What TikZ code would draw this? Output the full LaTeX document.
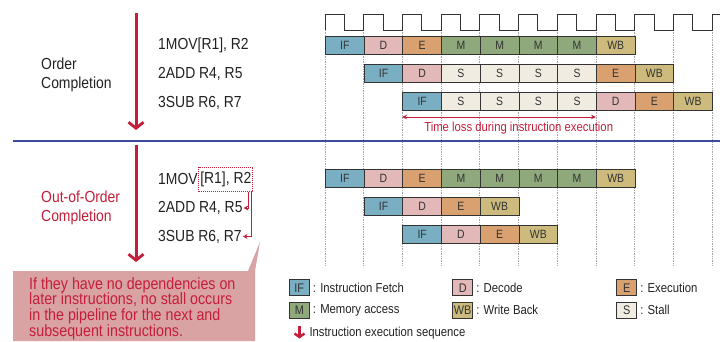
\documentclass[tikz,border=0pt]{standalone}
\usepackage{fontspec}
\setmainfont{Liberation Sans}[FakeStretch=0.87]
\usetikzlibrary{arrows.meta}
\definecolor{cIF}{HTML}{7AAEC3}
\definecolor{cD}{HTML}{E2B8B8}
\definecolor{cE}{HTML}{D9A070}
\definecolor{cM}{HTML}{8FA97D}
\definecolor{cWB}{HTML}{CDBB7E}
\definecolor{cS}{HTML}{F0ECE2}
\definecolor{myred}{HTML}{C41E3A}
\definecolor{calloutfill}{HTML}{D9A3A3}
\definecolor{navyline}{HTML}{3B4B9B}
\definecolor{edgegray}{HTML}{333333}
\definecolor{txtgray}{HTML}{222222}
\tikzset{
  phase/.style={draw=edgegray, line width=0.9pt, minimum width=38.7pt, minimum height=18pt,
    inner sep=0pt, font=\fontsize{12}{12}\selectfont, text=edgegray, anchor=west},
  instr/.style={anchor=west, inner sep=1pt, text=txtgray, font=\fontsize{16}{17}\selectfont},
  sidelabel/.style={anchor=west, inner sep=0pt, align=left, font=\fontsize{16}{19}\selectfont},
  seqarrow/.style={myred, line width=3pt, -{Straight Barb[length=6pt,width=15pt,line width=2.8pt]}},
  dotbox/.style={draw=myred, densely dotted, line width=1pt, inner xsep=1.5pt, inner ysep=0pt,
    minimum height=24pt, anchor=west, text=txtgray, font=\fontsize{16}{17}\selectfont},
  conn/.style={myred, line width=1pt, -{Stealth[length=4.5pt,width=5pt]}},
  legbox/.style={draw=edgegray, line width=0.9pt, minimum width=20pt, minimum height=16pt,
    inner sep=0pt, font=\fontsize{12.5}{13}\selectfont, text=edgegray},
  legtext/.style={anchor=west, inner sep=0pt, text=txtgray, font=\fontsize{13}{14}\selectfont},
}
\newcommand\pipeRow[4]{%
  \foreach \ph [count=\k from #3] in {#4} {
    \node[phase, fill=c\ph] (#1-\k) at ({325+38.7*\k}, #2) {\ph};
  }}
\begin{document}
\begin{tikzpicture}[x=1pt, y=-1pt]
\useasboundingbox (0,0) rectangle (720,341);
% grid of dotted lines
\foreach \i in {0,...,10}
  \draw[gray!70, densely dotted, line width=0.7pt] ({325+38.7*\i},30) -- ({325+38.7*\i},266);
% clock
\draw[edgegray, line width=0.8pt] (325,30)
  \foreach \i in {0,...,9}{ -- ++(0,-16) -- ++(19.35,0) -- ++(0,16) -- ++(19.35,0)}
  -- ++(0,-16) -- (720,14);
% separator
\draw[navyline, line width=1.3pt] (13,141) -- (720,141);
% sequence arrows
\coordinate (sa1) at (136,13);
\coordinate (sa2) at (136,130);
\coordinate (sb1) at (136,145);
\coordinate (sb2) at (136,262);
\draw[seqarrow] (sa1) -- (sa2);
\draw[seqarrow] (sb1) -- (sb2);
% left labels
\node[sidelabel, text=txtgray] (ordlbl) at (41,75) {Order\\Completion};
\node[sidelabel, text=myred] (oolbl) at (41,207.5) {Out-of-Order\\Completion};
% top instructions
\node[instr] (ia1) at (157,45.5) {1MOV[R1], R2};
\node[instr] (ia2) at (157,74) {2ADD R4, R5};
\node[instr] (ia3) at (157,102.5) {3SUB R6, R7};
% top pipeline
\pipeRow{ta}{45}{0}{IF,D,E,M,M,M,M,WB}
\pipeRow{tb}{73}{1}{IF,D,S,S,S,S,E,WB}
\pipeRow{tc}{101.7}{2}{IF,S,S,S,S,D,E,WB}
% time loss
\coordinate (tlA) at (402,117);
\coordinate (tlB) at (596,117);
\draw[myred, line width=0.9pt, {Stealth[length=5pt,width=4.5pt]}-{Stealth[length=5pt,width=4.5pt]}] (tlA) -- (tlB);
\node[text=myred, inner sep=0pt, font=\fontsize{13}{14}\selectfont] (tltxt) at (518.7,128.5) {Time loss during instruction execution};
% bottom instructions
\node[instr] (ib1) at (157,179) {1MOV};
\node[dotbox] (r1box) at (198.3,179) {[R1], R2};
\node[instr] (ib2) at (157,208) {2ADD R4, R5};
\node[instr] (ib3) at (157,236.5) {3SUB R6, R7};
\draw[conn] ([xshift=-5.3pt]r1box.south east) |- (ib2.east);
\draw[conn] ([xshift=-2pt]r1box.south east) |- (ib3.east);
% bottom pipeline
\pipeRow{ba}{178.3}{0}{IF,D,E,M,M,M,M,WB}
\pipeRow{bb}{206.3}{1}{IF,D,E,WB}
\pipeRow{bc}{234.3}{2}{IF,D,E,WB}
% callout
\fill[calloutfill] (13,271) -- (248,271) -- (260,242) -- (255,271) -- (255,341) -- (13,341) -- cycle;
\node[anchor=north west, inner sep=0pt, align=left, text=myred, font=\fontsize{16.4}{15.8}\selectfont] (calltxt) at (29,277)
  {If they have no dependencies on\\later instructions, no stall occurs\\in the pipeline for the next and\\subsequent instructions.};
% legend
\node[legbox, fill=cIF] (lgIF) at (299.3,287.7) {IF};
\node[legtext] at ([xshift=3pt]lgIF.east) {: Instruction Fetch};
\node[legbox, fill=cD] (lgD) at (462.7,287.7) {D};
\node[legtext] at ([xshift=3pt]lgD.east) {: Decode};
\node[legbox, fill=cE] (lgE) at (626.7,287.7) {E};
\node[legtext] at ([xshift=3pt]lgE.east) {: Execution};
\node[legbox, fill=cM] (lgM) at (299.3,310) {M};
\node[legtext] at ([xshift=3pt]lgM.east) {: Memory access};
\node[legbox, fill=cWB] (lgWB) at (462.7,310) {WB};
\node[legtext] at ([xshift=3pt]lgWB.east) {: Write Back};
\node[legbox, fill=cS] (lgS) at (626.7,310) {S};
\node[legtext] at ([xshift=3pt]lgS.east) {: Stall};
\coordinate (la1) at (299.5,326);
\coordinate (la2) at (299.5,338.5);
\draw[myred, line width=2.6pt, -{Straight Barb[length=3.5pt,width=10pt,line width=2.4pt]}] (la1) -- (la2);
\node[legtext] (lgseq) at (309.3,332.7) {Instruction execution sequence};
\end{tikzpicture}
\end{document}
